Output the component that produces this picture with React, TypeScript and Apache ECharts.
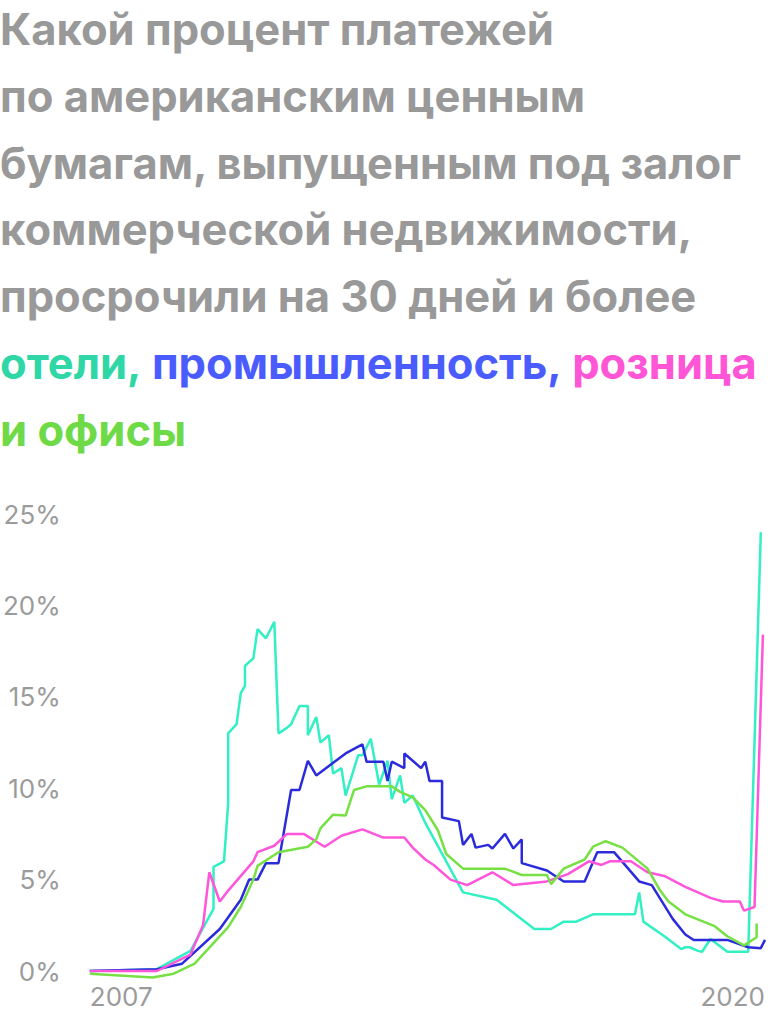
import * as echarts from "echarts";
import { useEffect, useRef } from "react";

// months since Jan 2007, value in %
const hotels: Array<[number, number]> = [
  [0, 0], [16, 0.1], [24, 1.1], [29.5, 3.4], [29.5, 5.7], [32, 6.0], [33, 9.2], [33, 13.0],
  [35, 13.5], [36, 15.2], [37, 15.6], [37, 16.7], [39, 17.1], [40, 18.7], [42, 18.2], [44, 19.1],
  [45, 13.0], [47, 13.3], [48, 13.5], [50, 14.5], [52, 14.5], [52, 12.9], [54, 13.9], [55, 12.5],
  [57, 12.9], [58, 10.8], [60, 11.1], [61, 9.6], [64, 11.8], [65, 11.8], [67, 12.7], [69, 10.2],
  [71, 11.5], [72, 9.4], [74, 10.7], [75, 9.2], [77, 9.6], [80, 8.1], [89, 4.3], [97, 3.9],
  [106, 2.3], [110, 2.3], [113, 2.7], [116, 2.7], [120, 3.1], [130, 3.1], [131, 4.3], [132, 2.7],
  [137, 1.9], [141, 1.2], [142, 1.3], [143, 1.3], [145, 1.1], [146, 1.05], [148, 1.75], [152, 1.05],
  [157, 1.05], [160, 24.0],
];

const industrial: Array<[number, number]> = [
  [0, 0], [16, 0.1], [22, 0.4], [31, 2.3], [36, 3.9], [38, 5.0], [40, 5.0], [42, 5.9], [45, 5.9],
  [48, 9.9], [50, 9.9], [52, 11.5], [54, 10.7], [61, 11.9], [65, 12.4], [66, 11.45], [70, 11.45],
  [71, 10.4], [72, 11.45], [75, 11.1], [75, 11.9], [79, 11.1], [80, 11.45], [81, 10.4], [84, 10.4],
  [84, 8.4], [88, 8.2], [89, 6.9], [91, 7.5], [92, 6.75], [95, 6.9], [96, 6.7], [99, 7.5],
  [101, 6.7], [103, 7.2], [103, 5.9], [109, 5.5], [113, 4.9], [118, 4.9], [121, 6.5], [125, 6.5],
  [131, 4.9], [134, 4.7], [139, 2.85], [142, 2.0], [144, 1.7], [152, 1.7], [157, 1.3], [160, 1.25],
  [161, 1.7],
];

const retail: Array<[number, number]> = [
  [0, 0], [16, 0], [24, 0.9], [27, 2.5], [28.5, 5.4], [31, 3.8], [33, 4.4], [39, 6.0], [40, 6.5],
  [44, 6.85], [47, 7.5], [51, 7.5], [56, 6.8], [60, 7.4], [65, 7.75], [70, 7.3], [75, 7.3],
  [77, 6.75], [80, 6.1], [82, 5.8], [86, 5.0], [90, 4.7], [96, 5.4], [101, 4.7], [109, 4.9],
  [114, 5.3], [119, 6.0], [122, 5.8], [124, 6.0], [129, 6.0], [133, 5.4], [137, 5.2], [142, 4.6],
  [148, 4.0], [151, 3.8], [155, 3.8], [156, 3.3], [158.5, 3.5], [160.5, 18.4],
];

const offices: Array<[number, number]> = [
  [0, -0.15], [15, -0.35], [20, -0.15], [25, 0.4], [29, 1.4], [33, 2.4], [36, 3.5], [38, 4.5],
  [39, 5.0], [40, 5.75], [45, 6.5], [52, 6.8], [54, 7.2], [55, 7.8], [58, 8.55], [61, 8.5],
  [63, 9.9], [66, 10.1], [72, 10.1], [74, 9.8], [77, 9.5], [80, 8.8], [83, 7.7], [85, 6.4],
  [89, 5.6], [99, 5.6], [103, 5.25], [109, 5.25], [110, 4.75], [113, 5.6], [118, 6.1], [120, 6.8],
  [123, 7.1], [127, 6.75], [133, 5.6], [136, 4.4], [138, 3.8], [142, 3.1], [149, 2.45], [152, 1.9],
  [156, 1.4], [159, 1.85], [159, 2.6],
];

const firstYear = "2007";
const lastYear = "2020";
const lastMonth = 161;

const titleLines = [
  "Какой процент платежей",
  "по американским ценным",
  "бумагам, выпущенным под залог",
  "коммерческой недвижимости,",
  "просрочили на 30 дней и более",
];

const seriesDefs = [
  { name: "отели", data: hotels, line: "#33EFC4", text: "#2FD7A6" },
  { name: "промышленность", data: industrial, line: "#2B2BDC", text: "#4B5CFF" },
  { name: "розница", data: retail, line: "#FF55DA", text: "#FF55D6" },
  { name: "офисы", data: offices, line: "#77E044", text: "#6FDA48" },
];

const FONT = "Inter, Roboto, sans-serif";
const TITLE_SIZE = 43.5;

function Chart(): React.ReactElement {
  const ref = useRef<HTMLDivElement | null>(null);

  useEffect(() => {
    const el = ref.current;
    if (el === null) return;
    const chart = echarts.init(el, null, { renderer: "svg" });

    const rich = (color: string) => ({
      color,
      fontFamily: FONT,
      fontWeight: 700,
      fontSize: TITLE_SIZE,
      lineHeight: 66.7,
    });

    const titleText =
      titleLines.map((l) => `{g|${l}}`).join("\n") +
      `\n{t|отели,}{g| }{b|промышленность,}{g| }{p|розница}\n{o|и офисы}`;

    chart.setOption({
      animation: false,
      title: {
        left: 0,
        top: -4,
        padding: 0,
        text: titleText,
        textStyle: {
          fontFamily: FONT,
          fontWeight: 700,
          fontSize: TITLE_SIZE,
          lineHeight: 66.7,
          color: "#999999",
          rich: {
            g: rich("#999999"),
            t: rich(seriesDefs[0].text),
            b: rich(seriesDefs[1].text),
            p: rich(seriesDefs[2].text),
            o: rich(seriesDefs[3].text),
          },
        },
      },
      grid: { left: 86, right: 1, top: 514, bottom: 49, containLabel: false },
      xAxis: {
        type: "value",
        min: 0,
        max: lastMonth,
        interval: lastMonth,
        axisLine: { show: false },
        axisTick: { show: false },
        splitLine: { show: false },
        axisLabel: {
          color: "#9B9B9B",
          fontFamily: FONT,
          fontSize: 26,
          margin: 12,
          alignMinLabel: "left",
          alignMaxLabel: "right",
          formatter: (v: number) => (v === 0 ? firstYear : lastYear),
        },
      },
      yAxis: {
        type: "value",
        min: 0,
        max: 25,
        interval: 5,
        axisLine: { show: false },
        axisTick: { show: false },
        splitLine: { show: false },
        axisLabel: {
          color: "#9B9B9B",
          fontFamily: FONT,
          fontSize: 26,
          margin: 29,
          formatter: "{value}%",
        },
      },
      series: seriesDefs.map((s) => ({
        name: s.name,
        type: "line",
        data: s.data,
        showSymbol: false,
        clip: false,
        lineStyle: { color: s.line, width: 2.5 },
        itemStyle: { color: s.line },
        z: s.name === "отели" ? 1 : 2,
      })),
    });

    return () => chart.dispose();
  }, []);

  return <div ref={ref} style={{ position: "absolute", left: 0, top: 0, width: 768, height: 1020 }} />;
}

export default function App(): React.ReactElement {
  return <Chart />;
}
